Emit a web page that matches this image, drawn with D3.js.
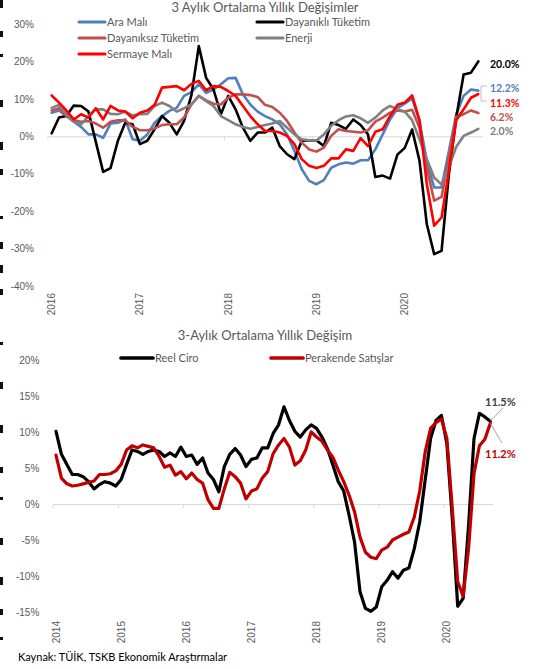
<!DOCTYPE html>
<html lang="tr">
<head>
<meta charset="UTF-8">
<title>3 Aylık Ortalama Yıllık Değişimler</title>
<script src="https://d3js.org/d3.v7.min.js"></script>
<style>
  body { margin: 0; background: #fff; }
  svg { display: block; font-family: Lato, "Open Sans", sans-serif; }
  .lbl { fill: #595959; }
</style>
</head>
<body>
<script>
// --- top chart data (monthly, Jan 2016 .. Nov 2020) ---
const topMonths = d3.timeMonth.range(new Date(2016, 0, 1), new Date(2020, 11, 1));
const topTicks = [30, 20, 10, 0, -10, -20, -30, -40];
const araMali = [6.3,6.9,5.4,3.9,2.5,0.5,0.5,-0.4,3.4,3.6,4.5,-0.8,-1.2,0.5,3.6,5.4,6.8,7.6,10.8,11.8,
  13.9,11.6,12.5,13.9,15.5,15.6,11.2,8.5,6.6,5.4,4.5,3.2,0.5,-3.9,-8.8,-11.9,-12.8,-11.7,-8.4,-7.5,
  -7.0,-7.3,-6.4,-6.4,-3.5,0.5,4.5,7.5,8.7,10.1,4.1,-6.6,-13.7,-13.7,-3.9,5.9,10.8,12.5,12.2];
const dayanikli = [0.8,5.0,5.4,8.2,8.1,6.6,-1.5,-9.5,-8.5,-1.2,3.6,3.2,-2.1,-1.2,1.9,5.4,3.6,0.5,4.1,11.0,
  24.1,15.6,12.5,5.9,10.8,7.2,2.3,-1.2,1.0,1.0,2.3,-2.6,-4.8,-6.1,-1.2,-1.1,-1.1,-2.6,3.6,3.0,
  2.0,4.5,3.0,0.5,-10.9,-10.5,-11.3,-4.9,-3.1,1.8,-6.5,-23.5,-31.5,-30.6,-10.1,5.0,16.5,17.0,20.0];
const dayaniksiz = [6.9,7.5,5.4,4.3,3.9,4.1,3.4,2.3,3.9,4.3,4.3,2.5,1.6,1.6,2.1,3.0,3.2,3.2,5.0,8.5,
  10.8,9.6,8.7,8.5,10.3,11.2,11.2,11.0,10.5,8.4,7.8,6.3,4.1,1.0,-1.7,-3.5,-4.1,-3.0,0.1,1.9,
  1.4,1.2,1.0,1.6,3.9,5.0,6.3,6.9,6.6,7.1,2.3,-8.4,-17.2,-16.2,-5.7,5.2,5.9,6.9,6.2];
const enerji = [7.6,8.4,5.9,3.9,3.2,5.4,7.2,7.2,6.0,5.9,6.6,5.6,5.9,6.0,8.1,9.0,8.1,6.6,7.5,8.5,
  10.8,9.4,8.1,5.4,4.3,3.2,2.5,2.0,2.5,3.0,3.4,4.1,2.3,0.5,-0.8,-1.1,-1.1,0.5,2.8,4.3,
  5.3,5.6,4.8,3.6,5.0,6.9,8.1,7.2,6.6,4.3,-0.8,-6.1,-11.0,-12.9,-8.2,-2.8,0.1,1.0,2.0];
const sermaye = [10.9,9.0,6.9,4.5,5.9,5.0,7.5,4.5,8.1,6.9,6.6,4.8,6.3,6.9,8.4,13.0,13.2,13.4,12.3,14.0,
  14.8,12.3,13.4,13.2,12.1,10.8,8.1,5.4,3.2,1.4,1.4,1.0,0.1,-2.1,-6.1,-7.9,-8.5,-7.9,-5.9,-5.9,
  -3.5,-3.9,-0.5,-2.6,1.2,1.9,5.4,8.4,9.0,10.9,4.3,-12.8,-23.9,-21.7,-9.2,4.3,7.2,10.3,11.3];
const topSeries = [
  { name: "Ara Malı", values: araMali, color: "#4f81bd", end: "12.2%" },
  { name: "Dayanıklı Tüketim", values: dayanikli, color: "#000000", end: "20.0%" },
  { name: "Dayanıksız Tüketim", values: dayaniksiz, color: "#c0504d", end: "6.2%" },
  { name: "Enerji", values: enerji, color: "#808080", end: "2.0%" },
  { name: "Sermaye Malı", values: sermaye, color: "#ff0000", end: "11.3%" }
];

// --- bottom chart data (monthly, Jan 2014 .. Sep 2020) ---
const botMonths = d3.timeMonth.range(new Date(2014, 0, 1), new Date(2020, 9, 1));
const botTicks = [20, 15, 10, 5, 0, -5, -10, -15];
const reelCiro = [10.1,6.9,5.5,4.1,4.1,3.8,3.1,2.1,2.7,3.1,2.9,2.5,3.4,5.5,7.5,7.3,6.9,7.3,7.5,7.3,
  6.6,7.1,6.6,7.9,6.6,6.8,5.5,6.4,4.3,3.4,1.7,5.2,6.9,7.7,6.8,5.2,6.2,6.4,7.8,7.8,
  9.8,11.0,13.5,11.6,10.1,9.3,10.3,11.0,10.5,9.3,7.7,5.4,3.1,1.8,-1.6,-5.3,-12.2,-14.5,-14.9,-14.3,
  -11.5,-10.6,-9.4,-10.3,-9.2,-8.9,-6.2,-2.5,3.3,9.1,11.6,12.3,8.4,-2.0,-14.2,-13.1,-3.0,9.1,12.6,12.1,11.5];
const perakende = [6.8,3.6,2.8,2.5,2.6,2.8,3.0,3.2,4.1,4.1,4.2,4.6,5.5,7.5,8.1,7.8,8.2,8.0,7.8,6.6,
  5.1,5.4,4.0,4.5,3.5,4.3,3.4,2.9,0.6,-0.6,-0.6,2.1,4.4,3.8,2.9,0.7,1.8,2.1,3.6,4.5,
  7.0,8.2,9.1,7.9,5.4,6.0,7.5,10.0,9.3,8.7,7.5,6.5,4.7,3.1,1.2,-1.1,-4.6,-6.7,-7.4,-7.6,
  -6.4,-6.0,-5.0,-4.6,-4.2,-3.9,-1.8,1.8,7.2,10.5,11.3,11.8,9.1,-0.6,-10.8,-12.8,-6.2,4.2,8.1,9.0,11.2];
const botSeries = [
  { name: "Reel Ciro", values: reelCiro, color: "#000000", end: "11.5%", endColor: "#404040" },
  { name: "Perakende Satışlar", values: perakende, color: "#c00000", end: "11.2%", endColor: "#c00000" }
];

const W = 542, H = 669;
const svg = d3.select("body").append("svg").attr("width", W).attr("height", H);

// scraps of the cropped page text along the left edge
const edgeMarks = [3, 34, 57, 103, 145, 172, 219, 245, 268, 292, 345, 385, 428, 470, 500, 541, 580, 612, 640];
svg.append("g").selectAll("rect").data(edgeMarks).join("rect")
  .attr("x", 0).attr("y", d => d - 3).attr("width", 3)
  .attr("height", (d, i) => [8, 6, 3, 7][i % 4]).attr("fill", "#111");

function drawChart(cfg) {
  const g = svg.append("g");
  const x = d3.scaleBand().domain(cfg.months.map((d, i) => i)).range(cfg.xr).padding(0);
  const y = d3.scaleLinear().domain(d3.extent(cfg.ticks)).range(cfg.yr);
  const cx = i => x(i) + x.bandwidth() / 2;

  // title
  g.append("text").attr("class", "lbl").attr("x", cfg.titleX).attr("y", cfg.titleY)
    .attr("text-anchor", "middle").attr("font-size", 13).text(cfg.title);

  // y axis labels only
  const ya = g.append("g").attr("transform", `translate(${cfg.xr[0] - 11},0)`)
    .call(d3.axisLeft(y).tickValues(cfg.ticks).tickSize(0).tickFormat(d => d + "%"));
  ya.select(".domain").remove();
  ya.selectAll("text").attr("class", "lbl").attr("font-size", 10).attr("font-family", null);

  // zero line with year ticks
  const jan = cfg.months.map((d, i) => i).filter(i => cfg.months[i].getMonth() === 0);
  const za = g.append("g").attr("transform", `translate(0,${y(0)})`)
    .call(d3.axisBottom(x).tickValues(jan).tickSize(4).tickSizeOuter(0).tickFormat(""));
  za.select(".domain").attr("stroke", "#d9d9d9");
  za.selectAll(".tick line").attr("stroke", "#d9d9d9").attr("transform", `translate(${-x.bandwidth() / 2},0)`);

  // year labels along the bottom, rotated
  const xa = g.append("g").attr("transform", `translate(0,${cfg.labelY})`)
    .call(d3.axisBottom(x).tickValues(jan).tickSize(0).tickFormat(i => cfg.months[i].getFullYear()));
  xa.select(".domain").remove();
  xa.selectAll("text").attr("class", "lbl").attr("font-size", 10).attr("font-family", null)
    .attr("transform", "rotate(-90)").attr("text-anchor", "end")
    .attr("x", 0).attr("y", 0).attr("dy", "0.35em");

  // series
  const line = d3.line().x((d, i) => cx(i)).y(d => y(d));
  g.append("g").selectAll("path").data(cfg.series).join("path")
    .attr("d", d => line(d.values)).attr("fill", "none")
    .attr("stroke", d => d.color).attr("stroke-width", cfg.lw)
    .attr("stroke-linejoin", "round").attr("stroke-linecap", "round");

  // legend
  const lg = g.append("g").selectAll("g").data(cfg.series).join("g")
    .attr("transform", (d, i) => `translate(${cfg.legend[i][0]},${cfg.legend[i][1]})`);
  lg.append("line").attr("x1", 0).attr("x2", cfg.legendLen).attr("stroke", d => d.color)
    .attr("stroke-width", cfg.lw + 0.5).attr("stroke-linecap", "round");
  lg.append("text").attr("class", "lbl").attr("x", cfg.legendLen + 2).attr("dy", "0.35em")
    .attr("font-size", 11).text(d => d.name);
  return { g, x, y, cx };
}

// top chart
const topChart = drawChart({
  months: topMonths, ticks: topTicks, series: topSeries,
  xr: [48, 482], yr: [286, 24], labelY: 293, lw: 2.6,
  title: "3 Aylık Ortalama Yıllık Değişimler", titleX: 265, titleY: 12,
  legend: [[79, 22], [257, 22], [79, 38], [257, 38], [79, 54]], legendLen: 26
});
const topEnd = [[0, 88], [1, 64], [2, 117], [3, 131], [4, 103]];
topChart.g.append("g").selectAll("text").data(topEnd).join("text")
  .attr("x", 490).attr("y", d => d[1]).attr("dy", "0.35em")
  .attr("font-size", 10.5).attr("font-weight", "bold")
  .attr("fill", d => topSeries[d[0]].color).text(d => topSeries[d[0]].end);
topChart.g.append("path").attr("d", "M487,86H481V101H487").attr("fill", "none")
  .attr("stroke", "#bfbfbf").attr("stroke-width", 1);

// bottom chart
const botChart = drawChart({
  months: botMonths, ticks: botTicks, series: botSeries,
  xr: [53.3, 493], yr: [612, 360], labelY: 621, lw: 3.2,
  title: "3-Aylık Ortalama Yıllık Değişim", titleX: 265, titleY: 340,
  legend: [[121, 358], [271, 358]], legendLen: 32
});
const last = reelCiro.length - 1;
const ex = botChart.cx(last);
botChart.g.append("path")
  .attr("d", `M${ex},${botChart.y(reelCiro[last])}L503,408M${ex},${botChart.y(perakende[last])}L502,443`)
  .attr("stroke", "#a6a6a6").attr("stroke-width", 1).attr("fill", "none");
botChart.g.append("g").selectAll("text").data([[0, 402], [1, 454]]).join("text")
  .attr("x", 485).attr("y", d => d[1]).attr("dy", "0.35em")
  .attr("font-size", 11).attr("font-weight", "bold")
  .attr("fill", d => botSeries[d[0]].endColor).text(d => botSeries[d[0]].end);

// source
svg.append("text").attr("x", 18).attr("y", 661).attr("font-size", 11).attr("fill", "#000")
  .text("Kaynak: TÜİK, TSKB Ekonomik Araştırmalar");
</script>
</body>
</html>
